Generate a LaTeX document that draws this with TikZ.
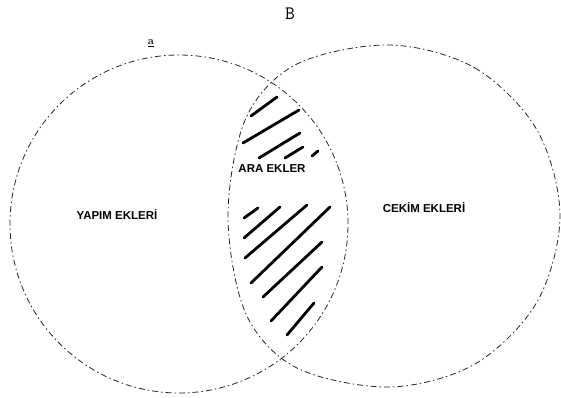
\documentclass[tikz,border=0pt]{standalone}
\usepackage{fontspec}
\newfontfamily\labelfont{Liberation Sans}

\tikzset{
  venn/.style={black!85, line width=0.8pt, dash pattern=on 6pt off 3pt on 1.5pt off 3pt},
  hatchline/.style={black, line width=2.8pt, line cap=round},
  setlabel/.style={font=\labelfont\bfseries\fontsize{11.5}{13}\selectfont, inner sep=0pt},
}

\begin{document}
\begin{tikzpicture}[x=1pt, y=-1pt]
\useasboundingbox (0,0) rectangle (561,398);

% The two sets (the right one is hand drawn, a little flat on its left side)
\draw[venn] (179,224) circle (169pt);
\draw[venn] plot[smooth cycle, tension=0.55] coordinates {
    (390,45) (475,68) (537,130) (560,216) (537,302) (475,364) (390,387)
    (297,368) (246,314) (228,216) (246,118) (297,64)};

% Hatching in the common part -- upper group
\foreach \xa/\ya/\xb/\yb in {251/116/277/97, 243/143/299/110, 259/158/300/133,
                             285/158/303/147, 312/156/318/151} {
    \draw[hatchline] (\xa,\ya) -- (\xb,\yb);
}

% Hatching -- lower group
\foreach \xa/\ya/\xb/\yb in {244/218/258/208, 244/238/280/207, 245/258/307/205,
                             251/283/330/207, 263/297/322/242, 271/321/322/267,
                             287/335/314/303} {
    \draw[hatchline] (\xa,\ya) -- (\xb,\yb);
}

% Set names
\node[setlabel] (yapim) at (117,215) {YAPIM EKLERİ};
\node[setlabel, fill=white, inner sep=1pt] (ara) at (272,169) {ARA EKLER};
\node[setlabel] (cekim) at (424,208) {CEKİM EKLERİ};

% Title and mark
\node[font=\ttfamily\fontsize{19}{20}\selectfont, inner sep=0pt] (title) at (290,14) {B};
\node[font=\bfseries\fontsize{11}{12}\selectfont, inner sep=0pt] (mark) at (151,43) {\underline{a}};

\end{tikzpicture}
\end{document}
